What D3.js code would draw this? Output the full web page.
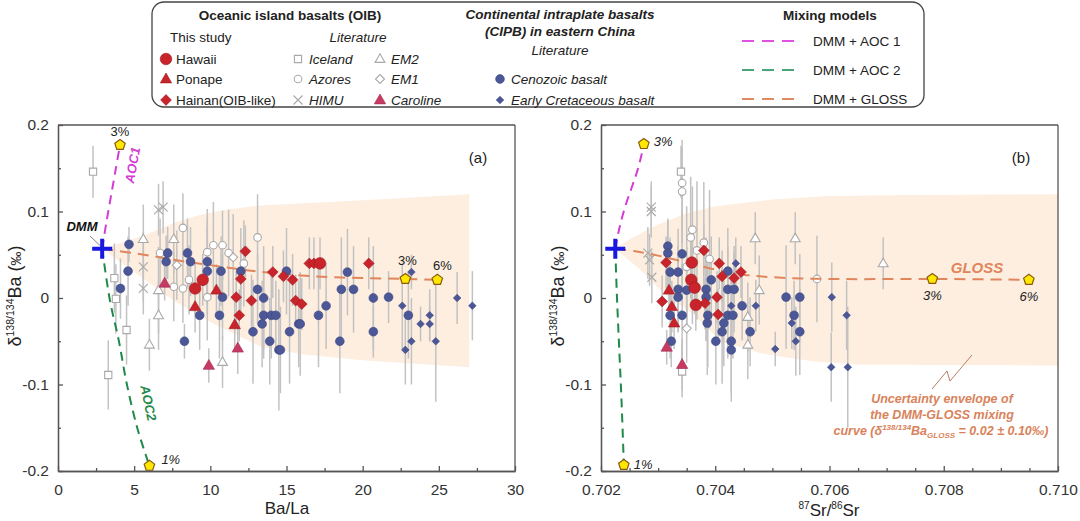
<!DOCTYPE html>
<html>
<head>
<meta charset="utf-8">
<script src="https://cdn.jsdelivr.net/npm/d3@7"></script>
<style>
body { margin: 0; background: #fff; }
svg { font-family: Arial, "Liberation Sans", sans-serif; }
</style>
</head>
<body>
<svg id="chart" width="1080" height="521"></svg>
<script>
// ---- data: panel (a) Ba/La vs d138/134Ba  [x, y, 2sd] ----
var hawaiiA = [[9.5,0.021,0.03],[9.0,0.011,0.03],[17.2,0.040,0.03]];
var ponapeA = [[9.0,-0.010,0.03],[10.4,0.009,0.03],[11.6,-0.031,0.03]];
var hainanA = [[12.3,0.054,0.03],[12.0,0.022,0.03],[11.7,0.001,0.03],[12.7,-0.003,0.03],[11.9,-0.020,0.03],
  [14.1,0.030,0.03],[14.8,0.025,0.03],[15.4,0.021,0.03],[15.6,-0.003,0.03],[16.0,-0.007,0.03],
  [16.5,0.040,0.03],[16.8,0.040,0.03],[20.4,0.040,0.03]];
var carolineA = [[7.0,0.017,0.02],[11.8,-0.058,0.03],[9.9,-0.078,0.02]];
var icelandA = [[2.3,0.146,0.03],[3.7,0.023,0.04],[3.8,-0.001,0.04],[4.5,-0.037,0.04],[3.3,-0.089,0.04]];
var azoresA = [[8.2,0.081,0.04],[13.1,0.070,0.05],[6.7,0.052,0.04],[9.8,0.053,0.05],[10.2,0.061,0.05],
  [10.8,0.061,0.04],[11.2,0.052,0.05],[8.2,0.011,0.04],[9.8,0.001,0.05],[8.6,0.021,0.04],
  [12.2,0.040,0.05],[7.6,0.013,0.04]];
var himuA = [[6.6,0.102,0.03],[6.9,0.105,0.03],[5.6,0.036,0.04],[5.6,0.011,0.03]];
var em2A = [[5.6,0.068,0.04],[7.6,0.068,0.04],[6.6,0.009,0.05],[6.6,-0.020,0.04],[6.0,-0.054,0.03],[10.8,-0.074,0.03]];
var em1A = [[7.8,0.038,0.04],[11.5,0.047,0.05]];
var cenozoicA = [[4.66,0.062,0.02],[4.6,0.031,0.04],[4.1,0.011,0.035],[7.2,0.052,0.03],[7.1,0.042,0.03],
  [8.5,0.052,0.04],[8.7,0.042,0.04],[9.8,0.042,0.05],[9.8,0.031,0.05],[10.7,0.031,0.04],[12.0,0.031,0.05],
  [9.3,-0.020,0.04],[10.6,-0.020,0.05],[10.8,0.001,0.05],[13.1,0.010,0.04],[13.5,0.000,0.06],
  [13.5,-0.020,0.05],[14.0,-0.020,0.05],[14.3,-0.020,0.04],[13.4,-0.030,0.05],[12.8,-0.039,0.06],
  [13.9,-0.050,0.05],[14.5,-0.060,0.07],[15.2,-0.039,0.06],[15.0,0.031,0.05],[8.3,-0.050,0.02],
  [15.8,-0.030,0.05],[19.0,0.030,0.05],[18.6,0.010,0.06],[19.4,0.010,0.05],[20.7,0.000,0.06],
  [21.7,0.001,0.03],[17.6,-0.009,0.05],[17.1,-0.020,0.06],[15.9,-0.030,0.06],[18.5,-0.050,0.06],
  [20.7,-0.039,0.03],[23.0,-0.020,0.05],[14.6,-0.060,0.05]];
var cretaceousA = [[23.2,0.030,0.02],[22.6,-0.009,0.05],[23.8,-0.030,0.02],[24.4,-0.030,0.02],[24.4,-0.020,0.03],
  [23.2,-0.050,0.05],[22.8,-0.060,0.04],[24.8,-0.050,0.07],[26.2,0.000,0.03],[27.2,-0.009,0.04]];

// ---- data: panel (b) 87Sr/86Sr vs d138/134Ba ----
var hawaiiB = [[0.70359,0.041,0.03],[0.70358,0.021,0.03],[0.70364,0.012,0.03],[0.70366,-0.008,0.03]];
var ponapeB = [[0.70319,0.009,0.03],[0.70324,-0.010,0.03],[0.70328,-0.029,0.03]];
var hainanB = [[0.70314,0.041,0.03],[0.70380,0.055,0.03],[0.70407,0.040,0.03],[0.70412,0.025,0.03],
  [0.70433,0.023,0.03],[0.70445,0.030,0.03],[0.70307,-0.004,0.03],[0.70382,-0.006,0.03],
  [0.70403,0.001,0.03],[0.70405,-0.019,0.03]];
var carolineB = [[0.70315,-0.057,0.02],[0.70342,-0.077,0.03]];
var icelandB = [[0.70340,0.146,0.03],[0.70342,-0.085,0.03]];
var azoresB = [[0.70342,0.133,0.04],[0.70342,0.123,0.06],[0.70360,0.079,0.05],[0.70357,0.070,0.07],
  [0.70368,0.055,0.08],[0.70350,0.036,0.07],[0.70578,0.022,0.05],[0.70380,0.064,0.07],[0.70390,0.045,0.08]];
var himuB = [[0.70288,0.105,0.03],[0.70288,0.100,0.03],[0.70282,0.052,0.03],[0.70285,0.044,0.03],[0.70289,0.024,0.03]];
var em2B = [[0.70470,0.069,0.03],[0.70540,0.069,0.03],[0.70477,0.009,0.04],[0.70457,-0.022,0.04],
  [0.70457,-0.054,0.04],[0.70694,0.040,0.03]];
var em1B = [[0.70360,0.020,0.05],[0.70350,-0.035,0.04]];
var cenozoicB = [[0.70317,0.060,0.03],[0.70317,0.052,0.04],[0.70342,0.051,0.05],[0.70321,0.030,0.04],
  [0.70335,0.030,0.05],[0.70335,0.010,0.05],[0.70350,0.009,0.05],[0.70335,0.001,0.04],[0.70321,-0.020,0.05],
  [0.70342,-0.020,0.06],[0.70323,-0.050,0.03],[0.70393,0.021,0.05],[0.70384,0.010,0.06],[0.70384,0.001,0.05],
  [0.70422,0.031,0.05],[0.70422,0.010,0.05],[0.70433,0.010,0.05],[0.70387,-0.020,0.06],[0.70386,-0.029,0.06],
  [0.70415,-0.029,0.05],[0.70422,-0.020,0.05],[0.70431,-0.020,0.05],[0.70412,-0.039,0.06],[0.70401,-0.050,0.05],
  [0.70428,-0.050,0.07],[0.70428,-0.060,0.05],[0.70447,-0.009,0.04],[0.70461,-0.039,0.04],[0.70524,0.001,0.06],
  [0.70548,0.001,0.05],[0.70538,-0.020,0.04],[0.70548,-0.039,0.05]];
var cretaceousB = [[0.70436,0.040,0.03],[0.70428,-0.009,0.04],[0.70471,-0.009,0.03],[0.70534,-0.029,0.03],
  [0.70541,-0.050,0.04],[0.70505,-0.059,0.02],[0.70604,0.001,0.04],[0.70630,-0.020,0.04],
  [0.70603,-0.080,0.04],[0.70632,-0.080,0.07]];

// ---- mixing models [x, y] ----
var dmmA = [2.9, 0.057];
var dmmB = [0.70225, 0.057];
var aoc1A = [[2.9,0.057],[3.2,0.090],[3.5,0.120],[3.8,0.150],[4.07,0.177]];
var aoc2A = [[2.9,0.057],[3.4,-0.002],[4.0,-0.050],[4.5,-0.098],[5.2,-0.150],[6.0,-0.194]];
var glossA = [[2.9,0.057],[4.5,0.053],[6,0.049],[8,0.043],[10,0.038],[12,0.033],[14,0.029],[16,0.026],
  [18,0.024],[20,0.023],[22.8,0.022],[24.9,0.021]];
var aoc1B = [[0.70225,0.057],[0.70232,0.080],[0.70242,0.105],[0.70255,0.130],[0.70265,0.150],[0.70275,0.177]];
var aoc2B = [[0.70225,0.057],[0.70228,0.000],[0.70232,-0.060],[0.70236,-0.120],[0.70240,-0.193]];
var glossB = [[0.70225,0.057],[0.7026,0.054],[0.7030,0.049],[0.7035,0.041],[0.7040,0.033],[0.7045,0.027],
  [0.7050,0.024],[0.7060,0.022],[0.7078,0.022],[0.70949,0.021]];
var marksA = [[4.07,0.177],[6.0,-0.194],[22.8,0.022],[24.9,0.021]];
var marksB = [[0.70275,0.178],[0.70240,-0.193],[0.7078,0.022],[0.70949,0.021]];
// uncertainty envelope (upper / lower)
var envUpA = [[2.9,0.057],[4,0.063],[5.6,0.072],[7.5,0.086],[9.3,0.096],[11,0.102],[13.3,0.107],[20,0.113],[27,0.120]];
var envLoA = [[2.9,0.057],[5,0.030],[7.5,-0.002],[10,-0.028],[12,-0.045],[13.3,-0.056],[16,-0.065],[20,-0.072],[27,-0.080]];
var envUpB = [[0.70225,0.057],[0.7025,0.068],[0.7030,0.085],[0.7035,0.098],[0.7040,0.106],[0.7050,0.114],
  [0.7060,0.118],[0.7075,0.119],[0.7100,0.120]];
var envLoB = [[0.70225,0.057],[0.7027,0.032],[0.7031,0.005],[0.7036,-0.018],[0.7041,-0.050],[0.7048,-0.064],
  [0.7057,-0.073],[0.7065,-0.077],[0.7100,-0.078]];

// ---- ticks ----
var yTicks = [-0.2,-0.1,0,0.1,0.2];
var yMinor = [-0.15,-0.05,0.05,0.15];
var xTicksA = [0,5,10,15,20,25,30];
var xMinorA = [2.5,7.5,12.5,17.5,22.5,27.5];
var xTicksB = [0.702,0.704,0.706,0.708,0.710];
var xMinorB = [0.7025,0.703,0.7035,0.7045,0.705,0.7055,0.7065,0.707,0.7075,0.7085,0.709,0.7095];

var svg = d3.select("#chart");
var red = "#c9232b", pink = "#c73a62", navy = "#4b5797", grey = "#a9a9a9";
var styles = {
  hawaii:   {shape:"circle",   r:5.8, fill:red,  stroke:"#9e1b22"},
  ponape:   {shape:"triangle", r:6,   fill:red,  stroke:"#9e1b22"},
  hainan:   {shape:"diamond",  r:5.4, fill:red,  stroke:"#9e1b22"},
  caroline: {shape:"triangle", r:6,   fill:pink, stroke:"#a22c50"},
  cenozoic: {shape:"circle",   r:4.4, fill:navy, stroke:"#3d4882"},
  cret:     {shape:"diamond",  r:3.8, fill:navy, stroke:"#3d4882"},
  iceland:  {shape:"square",   r:3.6, fill:"#fff", stroke:grey},
  azores:   {shape:"circle",   r:3.8, fill:"#fff", stroke:grey},
  himu:     {shape:"x",        r:4.5, fill:"none", stroke:grey},
  em2:      {shape:"triangle", r:5.2, fill:"#fff", stroke:grey},
  em1:      {shape:"diamond",  r:4.5, fill:"#fff", stroke:grey}
};

function shapePath(shape, r) {
  if (shape == "circle") return d3.symbol().type(d3.symbolCircle).size(Math.PI * r * r)();
  if (shape == "triangle") return "M0," + (-r) + "L" + (r*0.95) + "," + (r*0.65) + "L" + (-r*0.95) + "," + (r*0.65) + "Z";
  if (shape == "diamond") return "M0," + (-r) + "L" + r + ",0L0," + r + "L" + (-r) + ",0Z";
  if (shape == "square") return "M" + (-r) + "," + (-r) + "h" + (2*r) + "v" + (2*r) + "h" + (-2*r) + "Z";
  if (shape == "x") return "M" + (-r) + "," + (-r) + "L" + r + "," + r + "M" + r + "," + (-r) + "L" + (-r) + "," + r;
  if (shape == "pentagon") {
    var p = d3.range(5).map(function(i){ var a = -Math.PI/2 + i*2*Math.PI/5; return [r*Math.cos(a), r*Math.sin(a)]; });
    return "M" + p.join("L") + "Z";
  }
}

function drawMarker(g, st, x, y) {
  g.append("path")
    .attr("d", shapePath(st.shape, st.r))
    .attr("transform", "translate(" + x + "," + y + ")")
    .attr("fill", st.fill)
    .attr("stroke", st.stroke)
    .attr("stroke-width", st.fill == "#fff" || st.fill == "none" ? 1.1 : 0.6);
}

var y = d3.scaleLinear().domain([-0.2, 0.2]).range([471, 125]);

function drawPanel(opt) {
  var x = opt.x;
  var g = svg.append("g");
  var x0 = x.range()[0], x1 = x.range()[1];

  // envelope
  var env = opt.envUp.concat(opt.envLo.slice().reverse());
  g.append("path")
    .attr("d", d3.line().x(function(d){ return x(d[0]); }).y(function(d){ return y(d[1]); })(env) + "Z")
    .attr("fill", "#fdeee0");

  // error bars
  opt.groups.forEach(function(grp){
    grp.data.forEach(function(d){
      g.append("line")
        .attr("x1", x(d[0])).attr("x2", x(d[0]))
        .attr("y1", y(d[1] - d[2])).attr("y2", y(d[1] + d[2]))
        .attr("stroke", "#c2c2c2").attr("stroke-width", 1.5);
    });
  });
  // literature (grey) markers
  opt.groups.filter(function(grp){ return grp.grey; }).forEach(function(grp){
    grp.data.forEach(function(d){ drawMarker(g, styles[grp.key], x(d[0]), y(d[1])); });
  });

  // mixing curves
  var line = d3.line().curve(d3.curveCatmullRom)
    .x(function(d){ return x(d[0]); }).y(function(d){ return y(d[1]); });
  g.append("path").attr("d", line(opt.gloss)).attr("fill", "none")
    .attr("stroke", "#e0855c").attr("stroke-width", 2).attr("stroke-dasharray", "11,7");
  g.append("path").attr("d", line(opt.aoc1)).attr("fill", "none")
    .attr("stroke", "#d43cd4").attr("stroke-width", 2).attr("stroke-dasharray", "9,6");
  g.append("path").attr("d", line(opt.aoc2)).attr("fill", "none")
    .attr("stroke", "#1f8a4a").attr("stroke-width", 2).attr("stroke-dasharray", "9,6");

  // coloured markers
  opt.groups.filter(function(grp){ return !grp.grey; }).forEach(function(grp){
    grp.data.forEach(function(d){ drawMarker(g, styles[grp.key], x(d[0]), y(d[1])); });
  });

  // percentage marks
  opt.marks.forEach(function(d){
    g.append("path").attr("d", shapePath("pentagon", 5.5))
      .attr("transform", "translate(" + x(d[0]) + "," + y(d[1]) + ")")
      .attr("fill", "#ffe800").attr("stroke", "#8a5a10").attr("stroke-width", 1.2);
  });

  // DMM cross
  g.append("path").attr("d", "M-10,0H10M0,-10V10")
    .attr("transform", "translate(" + x(opt.dmm[0]) + "," + y(opt.dmm[1]) + ")")
    .attr("stroke", "#1818e0").attr("stroke-width", 4);

  // axes
  g.append("g").attr("transform", "translate(0,471)")
    .call(d3.axisBottom(x).tickValues(opt.xTicks).tickSize(-5).tickSizeOuter(0).tickPadding(13).tickFormat(opt.xFmt));
  g.append("g").attr("transform", "translate(0,471)")
    .call(d3.axisBottom(x).tickValues(opt.xMinor).tickSize(-3).tickSizeOuter(0).tickFormat(""));
  g.append("g").attr("transform", "translate(" + x0 + ",0)")
    .call(d3.axisLeft(y).tickValues(yTicks).tickSize(-5).tickSizeOuter(0).tickPadding(9)
      .tickFormat(function(d){ return d == 0 ? "0" : String(d); }));
  g.append("g").attr("transform", "translate(" + x0 + ",0)")
    .call(d3.axisLeft(y).tickValues(yMinor).tickSize(-3).tickSizeOuter(0).tickFormat(""));
  g.selectAll(".domain, .tick line").attr("stroke", "#555").attr("stroke-width", 1.3);
  g.selectAll(".tick text").attr("font-size", 15.5).attr("fill", "#333").attr("font-family", "Arial, 'Liberation Sans', sans-serif");
  g.append("line").attr("x1", x0).attr("x2", x1).attr("y1", 125).attr("y2", 125).attr("stroke", "#555").attr("stroke-width", 1.3);
  g.append("line").attr("x1", x1).attr("x2", x1).attr("y1", 125).attr("y2", 471).attr("stroke", "#555").attr("stroke-width", 1.3);

  // y label
  var yl = g.append("text")
    .attr("transform", "translate(" + (x0 - 37) + ",296) rotate(-90)")
    .attr("text-anchor", "middle").attr("fill", "#222").attr("font-size", 18);
  yl.append("tspan").text("δ");
  yl.append("tspan").attr("font-size", 10.5).attr("dy", -7).text("138/134");
  yl.append("tspan").attr("dy", 7).text("Ba (");
  yl.append("tspan").attr("font-size", 14).text("‰");
  yl.append("tspan").text(")");

  g.append("text").attr("x", x1 - 37).attr("y", 163).attr("text-anchor", "middle")
    .attr("font-size", 15).attr("fill", "#222").text(opt.tag);
  return g;
}

// panel (a)
var xA = d3.scaleLinear().domain([0, 30]).range([58, 515]);
var gA = drawPanel({
  x: xA, xTicks: xTicksA, xMinor: xMinorA, xFmt: d3.format("d"), tag: "(a)",
  envUp: envUpA, envLo: envLoA, gloss: glossA, aoc1: aoc1A, aoc2: aoc2A, marks: marksA, dmm: dmmA,
  groups: [
    {key:"iceland", data:icelandA, grey:true}, {key:"azores", data:azoresA, grey:true},
    {key:"himu", data:himuA, grey:true}, {key:"em2", data:em2A, grey:true}, {key:"em1", data:em1A, grey:true},
    {key:"cenozoic", data:cenozoicA}, {key:"cret", data:cretaceousA},
    {key:"caroline", data:carolineA}, {key:"ponape", data:ponapeA},
    {key:"hainan", data:hainanA}, {key:"hawaii", data:hawaiiA}
  ]
});
gA.append("text").attr("x", 287).attr("y", 514).attr("text-anchor", "middle")
  .attr("font-size", 17).attr("fill", "#222").text("Ba/La");
gA.append("text").attr("x", xA(marksA[0][0])).attr("y", y(marksA[0][1]) - 9).attr("text-anchor", "middle")
  .attr("font-size", 13).attr("fill", "#222").text("3%");
gA.append("text").attr("x", xA(marksA[1][0]) + 12).attr("y", y(marksA[1][1]) - 2)
  .attr("font-size", 13).attr("font-style", "italic").attr("fill", "#222").text("1%");
gA.append("text").attr("x", xA(marksA[2][0]) + 2).attr("y", y(marksA[2][1]) - 14).attr("text-anchor", "middle")
  .attr("font-size", 13).attr("fill", "#222").text("3%");
gA.append("text").attr("x", xA(marksA[3][0]) + 5).attr("y", y(marksA[3][1]) - 10).attr("text-anchor", "middle")
  .attr("font-size", 13).attr("fill", "#222").text("6%");
gA.append("text").attr("transform", "translate(137,166) rotate(-80)").attr("text-anchor", "middle")
  .attr("font-size", 13).attr("font-weight", "bold").attr("font-style", "italic").attr("fill", "#d43cd4").text("AOC1");
gA.append("text").attr("transform", "translate(144,404) rotate(78)").attr("text-anchor", "middle")
  .attr("font-size", 13).attr("font-weight", "bold").attr("font-style", "italic").attr("fill", "#1f8a4a").text("AOC2");
gA.append("line").attr("x1", 90).attr("y1", 236).attr("x2", xA(dmmA[0]) - 2).attr("y2", y(dmmA[1]) - 3)
  .attr("stroke", "#666").attr("stroke-width", 0.8);
gA.append("text").attr("x", 82).attr("y", 231).attr("text-anchor", "middle")
  .attr("font-size", 13).attr("font-weight", "bold").attr("font-style", "italic").attr("fill", "#111").text("DMM");

// panel (b)
var xB = d3.scaleLinear().domain([0.702, 0.710]).range([601, 1058]);
var gB = drawPanel({
  x: xB, xTicks: xTicksB, xMinor: xMinorB, xFmt: d3.format(".3f"), tag: "(b)",
  envUp: envUpB, envLo: envLoB, gloss: glossB, aoc1: aoc1B, aoc2: aoc2B, marks: marksB, dmm: dmmB,
  groups: [
    {key:"iceland", data:icelandB, grey:true}, {key:"azores", data:azoresB, grey:true},
    {key:"himu", data:himuB, grey:true}, {key:"em2", data:em2B, grey:true}, {key:"em1", data:em1B, grey:true},
    {key:"cenozoic", data:cenozoicB}, {key:"cret", data:cretaceousB},
    {key:"caroline", data:carolineB}, {key:"ponape", data:ponapeB},
    {key:"hainan", data:hainanB}, {key:"hawaii", data:hawaiiB}
  ]
});
var xl = gB.append("text").attr("x", 829).attr("y", 516).attr("text-anchor", "middle")
  .attr("font-size", 17).attr("fill", "#222");
xl.append("tspan").attr("font-size", 10).attr("dy", -7).text("87");
xl.append("tspan").attr("dy", 7).text("Sr/");
xl.append("tspan").attr("font-size", 10).attr("dy", -7).text("86");
xl.append("tspan").attr("dy", 7).text("Sr");
var it = {"font-size": 13, "font-style": "italic", "fill": "#222"};
function styled(sel, o) { Object.keys(o).forEach(function(k){ sel.attr(k, o[k]); }); return sel; }
styled(gB.append("text").attr("x", xB(marksB[0][0]) + 10).attr("y", y(marksB[0][1]) + 2), it).text("3%");
styled(gB.append("text").attr("x", xB(marksB[1][0]) + 10).attr("y", y(marksB[1][1]) + 4), it).text("1%");
styled(gB.append("text").attr("x", xB(marksB[2][0])).attr("y", y(marksB[2][1]) + 21).attr("text-anchor", "middle"), it).text("3%");
styled(gB.append("text").attr("x", xB(marksB[3][0])).attr("y", y(marksB[3][1]) + 21).attr("text-anchor", "middle"), it).text("6%");
gB.append("text").attr("x", 977).attr("y", 273).attr("text-anchor", "middle")
  .attr("font-size", 15).attr("font-weight", "bold").attr("font-style", "italic").attr("fill", "#e0855c").text("GLOSS");
gB.append("path").attr("d", "M932,389L947,371L950,381L972,355")
  .attr("fill", "none").attr("stroke", "#b07050").attr("stroke-width", 0.9);
var note = {"font-size": 12.5, "font-weight": "bold", "font-style": "italic", "fill": "#d9825a", "text-anchor": "middle"};
styled(gB.append("text").attr("x", 942).attr("y", 403), note).text("Uncertainty envelope of");
styled(gB.append("text").attr("x", 942).attr("y", 419), note).text("the DMM-GLOSS mixing");
var n3 = styled(gB.append("text").attr("x", 941).attr("y", 435), note);
n3.append("tspan").text("curve (δ");
n3.append("tspan").attr("font-size", 8).attr("dy", -5).text("138/134");
n3.append("tspan").attr("dy", 5).text("Ba");
n3.append("tspan").attr("font-size", 8).attr("dy", 3).text("GLOSS");
n3.append("tspan").attr("dy", -3).text(" = 0.02 ± 0.10‰)");

// ---- legend ----
var lg = svg.append("g").attr("font-size", 13.5).attr("fill", "#222");
lg.append("rect").attr("x", 152).attr("y", 2).attr("width", 772).attr("height", 105).attr("rx", 12)
  .attr("fill", "#fff").attr("stroke", "#444").attr("stroke-width", 1.3);
function ltext(x, yy, t, o) {
  var s = lg.append("text").attr("x", x).attr("y", yy).text(t);
  if (o) styled(s, o);
  return s;
}
var bold = {"font-weight": "bold", "text-anchor": "middle"};
ltext(290, 20, "Oceanic island basalts (OIB)", bold);
ltext(170, 42, "This study");
ltext(358, 42, "Literature", {"font-style": "italic", "text-anchor": "middle"});
var rows = [59, 79, 100];
[["hawaii","Hawaii"],["ponape","Ponape"],["hainan","Hainan(OIB-like)"]].forEach(function(d, i){
  drawMarker(lg, styles[d[0]], 166, rows[i]);
  ltext(176, rows[i] + 5, d[1]);
});
[["iceland","Iceland"],["azores","Azores"],["himu","HIMU"]].forEach(function(d, i){
  drawMarker(lg, styles[d[0]], 298, rows[i]);
  ltext(309, rows[i] + 5, d[1], {"font-style": "italic"});
});
[["em2","EM2"],["em1","EM1"],["caroline","Caroline"]].forEach(function(d, i){
  drawMarker(lg, styles[d[0]], 380, rows[i]);
  ltext(391, rows[i] + 5, d[1], {"font-style": "italic"});
});
var bi = {"font-weight": "bold", "font-style": "italic", "text-anchor": "middle"};
ltext(560, 19, "Continental intraplate basalts", bi);
ltext(560, 36, "(CIPB) in eastern China", bi);
ltext(560, 55, "Literature", {"font-style": "italic", "text-anchor": "middle"});
drawMarker(lg, styles.cenozoic, 500, 79);
ltext(511, 84, "Cenozoic basalt", {"font-style": "italic"});
drawMarker(lg, styles.cret, 500, 100);
ltext(511, 105, "Early Cretaceous basalt", {"font-style": "italic"});
ltext(830, 20, "Mixing models", bold);
[["#e34fe3","DMM + AOC 1",41],["#4aa57a","DMM + AOC 2",70],["#e08a64","DMM + GLOSS",99]].forEach(function(d){
  lg.append("line").attr("x1", 742).attr("x2", 798).attr("y1", d[2]).attr("y2", d[2])
    .attr("stroke", d[0]).attr("stroke-width", 2).attr("stroke-dasharray", "12,8");
  ltext(813, d[2] + 5, d[1]);
});
</script>
</body>
</html>
